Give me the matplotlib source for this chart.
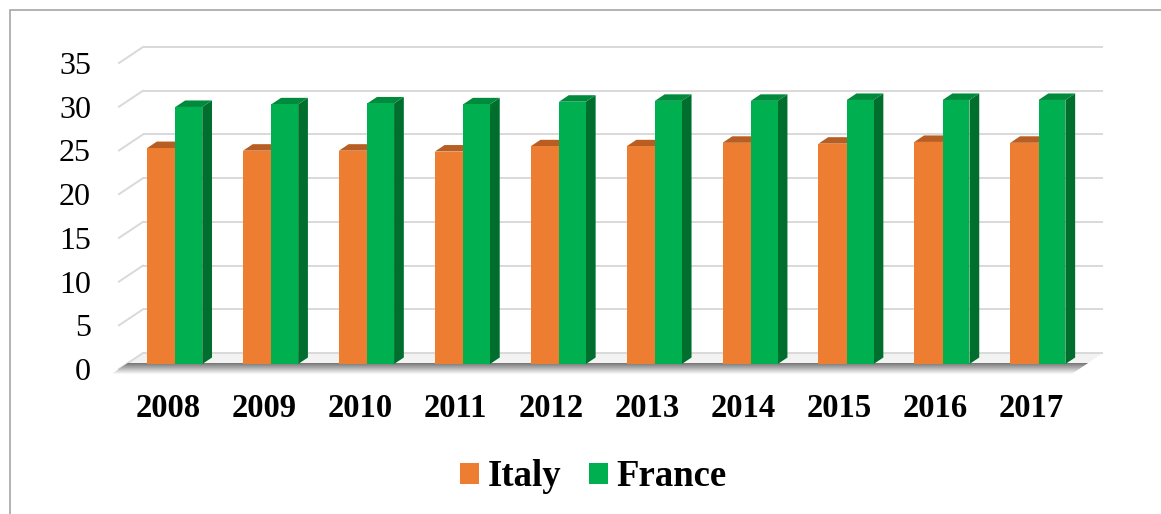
import matplotlib
matplotlib.use("Agg")
import matplotlib.pyplot as plt
from matplotlib.patches import Polygon, Rectangle, Patch
import numpy as np

years = ["2008", "2009", "2010", "2011", "2012", "2013", "2014", "2015", "2016", "2017"]
italy = [24.7, 24.4, 24.4, 24.3, 24.9, 24.9, 25.3, 25.2, 25.4, 25.3]
france = [29.4, 29.7, 29.8, 29.7, 30.0, 30.1, 30.1, 30.2, 30.2, 30.2]
yticks = [0, 5, 10, 15, 20, 25, 30, 35]
series_names = ["Italy", "France"]

IT_FRONT, IT_TOP = "#ED7D31", "#B85E22"
FR_FRONT, FR_TOP, FR_SIDE = "#00B050", "#008A3C", "#006F2E"
GRID = "#D9D9D9"
SERIF = "Liberation Serif"

W, H = 1161, 514
fig = plt.figure(figsize=(W / 100, H / 100), dpi=100)
ax_left_px, ax_w_px, ax_bottom_px, ax_h_px = 126.5, 960, 150, 306
ax = fig.add_axes([ax_left_px / W, ax_bottom_px / H, ax_w_px / W, ax_h_px / H])
XMIN, XMAX = -0.51, 9.50
ax.set_xlim(XMIN, XMAX)
ax.set_ylim(0, 35)
ax.axis("off")

PXX = ax_w_px / (XMAX - XMIN)
PXY = ax_h_px / 35.0

def depth(d):
    """data offset for a depth of d pixels (positive = towards back)"""
    return 1.5 * d / PXX, d / PXY

BACK = 11
FRONT = -5
bdx, bdy = depth(BACK)
fdx, fdy = depth(FRONT)

# floor
floor = Polygon([(XMIN + fdx, fdy), (XMAX + fdx, fdy), (XMAX + bdx, bdy), (XMIN + bdx, bdy)],
                closed=True, facecolor="#F2F2F2", edgecolor="none", zorder=1, clip_on=False)
ax.add_patch(floor)

# floor shadow (gradient strips)
n = 16
top_px, bot_px = -1.0, 10.0
cols = np.linspace(0.33, 0.96, n)
for k in range(n):
    a = top_px + (bot_px - top_px) * k / n
    b = top_px + (bot_px - top_px) * (k + 1) / n
    ya, yb = -a / PXY, -b / PXY
    xa_l = XMIN + 1.5 * (-a) / PXX
    xb_l = XMIN + 1.5 * (-b) / PXX
    xa_r = XMAX + 1.5 * (-a) / PXX
    xb_r = XMAX + 1.5 * (-b) / PXX
    c = cols[k]
    ax.add_patch(Polygon([(xa_l, ya), (xa_r, ya), (xb_r, yb), (xb_l, yb)], closed=True,
                         facecolor=(c, c, c), edgecolor="none", zorder=1.5, clip_on=False))

# back wall gridlines + left slanted lines
for v in yticks:
    ax.plot([XMIN + bdx, XMAX + bdx], [v + bdy, v + bdy], color=GRID, lw=1.4,
            zorder=1.2, clip_on=False, solid_capstyle="butt")
    ax.plot([XMIN + fdx, XMIN + bdx], [v + fdy, v + bdy], color=GRID, lw=1.4,
            zorder=1.2, clip_on=False)
    ax.text(XMIN + fdx - 28 / PXX, v + fdy - 11 / PXY, str(v), ha="right", va="baseline",
            fontsize=23, family=SERIF, color="black")

# bars
x = np.arange(len(years))
w_it, w_fr = 0.295, 0.28
sdx, sdy = depth(6.5)
for i in range(len(years)):
    zb = 3 + i * 0.1
    x0, x1, h = x[i] - w_it, x[i], italy[i]
    ax.add_patch(Polygon([(x0, h), (x1, h), (x1 + sdx, h + sdy), (x0 + sdx, h + sdy)],
                         closed=True, facecolor=IT_TOP, edgecolor="none", zorder=zb))
    ax.bar(x0, h, width=w_it, align="edge", color=IT_FRONT, zorder=zb + 0.01, linewidth=0)
    x0, x1, h = x[i], x[i] + w_fr, france[i]
    ax.add_patch(Polygon([(x1, 0), (x1, h), (x1 + sdx, h + sdy), (x1 + sdx, sdy)],
                         closed=True, facecolor=FR_SIDE, edgecolor="none", zorder=zb + 0.02))
    ax.add_patch(Polygon([(x0, h), (x1, h), (x1 + sdx, h + sdy), (x0 + sdx, h + sdy)],
                         closed=True, facecolor=FR_TOP, edgecolor="none", zorder=zb + 0.02))
    ax.bar(x0, h, width=w_fr, align="edge", color=FR_FRONT, zorder=zb + 0.03, linewidth=0)
    ax.text(x[i] + fdx, fdy - 48 / PXY, years[i], ha="center", va="baseline",
            fontsize=23.5, fontweight="bold", family=SERIF, color="black")

# legend
handles = [Patch(facecolor=IT_FRONT, edgecolor="none"), Patch(facecolor=FR_FRONT, edgecolor="none")]
fig.legend(handles, series_names, loc="center", bbox_to_anchor=(0.511, 0.072), ncol=2,
           frameon=False, prop={"family": SERIF, "weight": "bold", "size": 26.5},
           handlelength=0.53, handleheight=0.53, handletextpad=0.22, columnspacing=0.75)

# outer frame (right and bottom edges fall outside the image)
fig.add_artist(Rectangle((9.5 / W, -0.2), 1.5, 1.2 - 9.5 / H, transform=fig.transFigure,
                         facecolor="none", edgecolor="#A6A6A6", lw=1.2))

fig.savefig("out.png", dpi=100)
